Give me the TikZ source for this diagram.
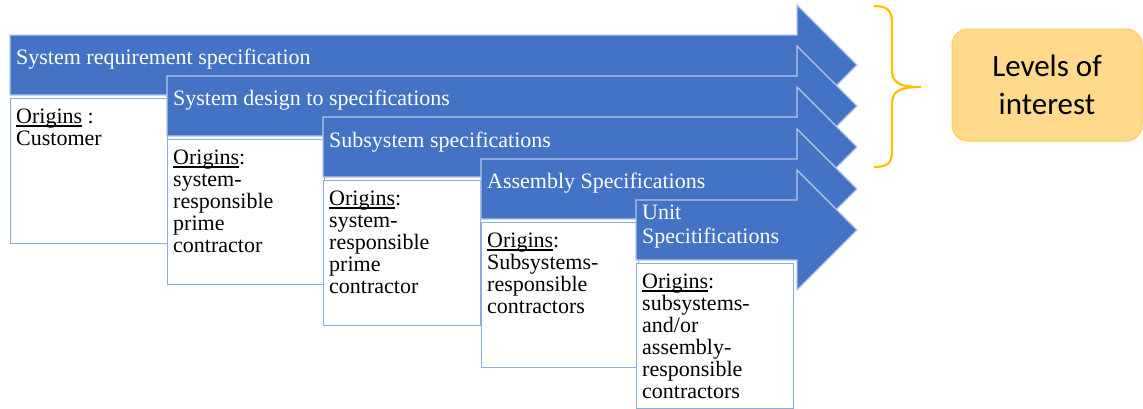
\documentclass[tikz,border=0pt]{standalone}
\usepackage{fontspec}
\setmainfont{Liberation Serif}
\newfontfamily\levelsfont{Carlito}
\usetikzlibrary{positioning}
\definecolor{specblue}{RGB}{68,114,196}
\definecolor{specedge}{RGB}{180,199,231}
\definecolor{origedge}{RGB}{143,170,220}
\definecolor{levelfill}{RGB}{255,217,140}
\definecolor{leveledge}{RGB}{255,204,70}
\definecolor{bracegold}{RGB}{255,192,0}
\newcommand{\origul}[1]{\setbox0\hbox{#1}\leavevmode\rlap{\rule[-2.8pt]{\wd0}{1.1pt}}\box0}

\begin{document}
\begin{tikzpicture}[x=1pt,y=-1pt,
    speclabel/.style={anchor=north west,inner sep=0pt,align=left,text=white,font=\fontsize{22}{24}\selectfont},
    origbox/.style={draw=origedge,line width=1.2pt,fill=white,anchor=north west,minimum width=157pt,minimum height=145pt,inner sep=0pt},
    origlabel/.style={anchor=north west,inner sep=0pt,align=left,font=\fontsize{22}{22}\selectfont}]
    \useasboundingbox (0,0) rectangle (1143,408);
    % Specification levels with their origins
    \foreach \i/\lx/\ty/\dy/\spec/\orig in {
        1/10/35/14/{System requirement specification}/{\origul{Origins}\ :\\Customer},
        2/167/76/14/{System design to specifications}/{\origul{Origins}:\\system-\\responsible\\prime\\contractor},
        3/323/117/15/{Subsystem specifications}/{\origul{Origins}:\\system-\\responsible\\prime\\contractor},
        4/481/159/14/{Assembly Specifications}/{\origul{Origins}:\\Subsystems-\\responsible\\contractors},
        5/636/200/5/{Unit\\Specitifications}/{\origul{Origins}:\\subsystems-\\and/or\\assembly-\\responsible\\contractors}}{
      \filldraw[fill=specblue,draw=specedge,line width=1.2pt] (\lx,\ty) -- (797,\ty) -- (797,\ty-30) -- (857,\ty+30)
        -- (797,\ty+90) -- (797,\ty+60) -- (\lx,\ty+60) -- cycle;
      \node[speclabel] (spec\i) at (\lx+6,\ty+\dy) {\spec};
      \node[origbox] (orig\i) at (\lx,\ty+63) {};
      \node[origlabel] (origtext\i) at ([xshift=6pt,yshift=-11pt]orig\i.north west) {\orig};
    }
    % Brace
    \draw[bracegold,line width=2.2pt] (874,6) .. controls (889,6) and (892,12) .. (892,24) -- (892,70)
      .. controls (892,82) and (898,87) .. (921,87) .. controls (898,87) and (892,92) .. (892,104)
      -- (892,150) .. controls (892,162) and (889,167) .. (874,167);
    % Levels of interest
    \node[draw=leveledge,fill=levelfill,rounded corners=16pt,line width=1pt,minimum width=190pt,minimum height=112pt,
      align=center,font=\levelsfont\fontsize{31}{38}\selectfont] (levels) at (1047,85) {Levels of\\interest};
\end{tikzpicture}
\end{document}
